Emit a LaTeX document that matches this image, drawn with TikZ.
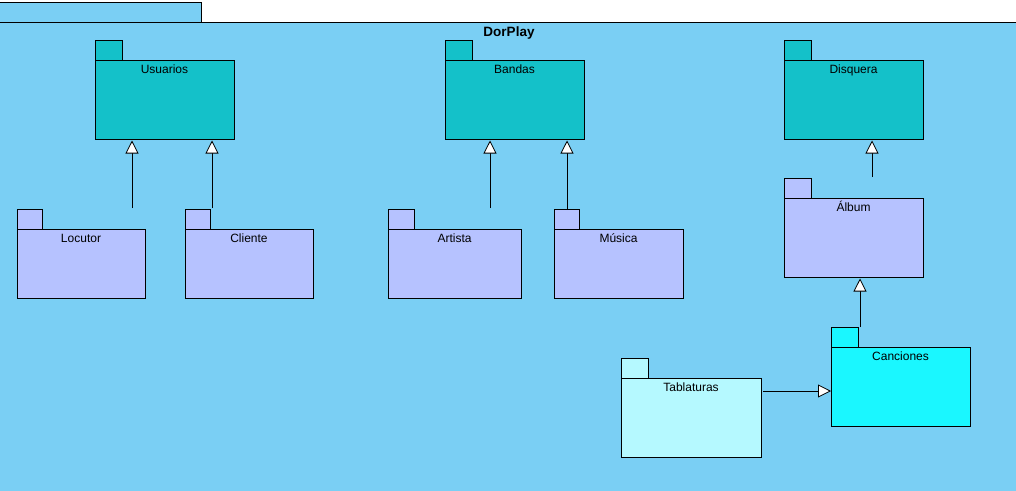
\documentclass[tikz,border=0pt]{standalone}
\usepackage{fontspec}
\setmainfont{Liberation Sans}
\usetikzlibrary{arrows.meta,positioning}
\definecolor{fondo}{RGB}{122,207,244}
\definecolor{verdeazul}{RGB}{20,193,201}
\definecolor{lavanda}{RGB}{182,194,255}
\definecolor{cian}{RGB}{26,247,255}
\definecolor{cianclaro}{RGB}{181,249,255}
\tikzset{
  pkg/.style={draw, line width=0.9pt, anchor=north west, inner sep=0pt, outer sep=0pt,
    minimum width=139pt, minimum height=79pt},
  pkgchico/.style={pkg, minimum width=128pt, minimum height=69pt},
  tabpkg/.style={draw, line width=0.9pt, anchor=south west, inner sep=0pt, outer sep=0pt,
    minimum width=27pt, minimum height=20pt},
  lbl/.style={anchor=base, yshift=-13pt, inner sep=0pt, font=\fontsize{12}{14}\selectfont},
  gen/.style={-{Triangle[fill=white,width=13pt,length=13pt]}, line width=0.8pt, shorten >=1.5pt}
}
\begin{document}
\begin{tikzpicture}[x=1pt,y=-1pt]
                \useasboundingbox (0,0) rectangle (1016,490);
                %marco
                \draw[fill=fondo, line width=0.9pt] (-3,2) rectangle (201,22);
                \draw[fill=fondo, line width=0.9pt] (-3,22) rectangle (1020,494);
                \node[font=\fontsize{13.5}{15}\selectfont\bfseries, anchor=base] (titulo) at (509,36.5) {DorPlay};
                %paquetes de arriba
                \node[pkg, fill=verdeazul, label={[lbl]north:Usuarios}] (usu) at (95,60) {};
                \node[tabpkg, fill=verdeazul] (usu-tab) at (usu.north west) {};
                \node[pkg, fill=verdeazul, label={[lbl]north:Bandas}] (ban) at (445,60) {};
                \node[tabpkg, fill=verdeazul] (ban-tab) at (ban.north west) {};
                \node[pkg, fill=verdeazul, label={[lbl]north:Disquera}] (dis) at (784,60) {};
                \node[tabpkg, fill=verdeazul] (dis-tab) at (dis.north west) {};
                %paquetes de abajo
                \node[pkgchico, fill=lavanda, label={[lbl]north:Locutor}] (loc) at (17,229) {};
                \node[tabpkg, fill=lavanda, minimum width=25pt] (loc-tab) at (loc.north west) {};
                \node[pkgchico, fill=lavanda, label={[lbl]north:Cliente}] (cli) at (185,229) {};
                \node[tabpkg, fill=lavanda, minimum width=25pt] (cli-tab) at (cli.north west) {};
                \node[pkgchico, fill=lavanda, minimum width=133pt, label={[lbl]north:Artista}] (art) at (388,229) {};
                \node[tabpkg, fill=lavanda, minimum width=26pt] (art-tab) at (art.north west) {};
                \node[pkgchico, fill=lavanda, minimum width=129pt, label={[lbl]north:Música}] (mus) at (554,229) {};
                \node[tabpkg, fill=lavanda, minimum width=25pt] (mus-tab) at (mus.north west) {};
                \node[pkg, fill=lavanda, label={[lbl]north:Álbum}] (alb) at (784,198) {};
                \node[tabpkg, fill=lavanda] (alb-tab) at (alb.north west) {};
                \node[pkg, fill=cian, label={[lbl]north:Canciones}] (can) at (831,347) {};
                \node[tabpkg, fill=cian] (can-tab) at (can.north west) {};
                \node[pkg, fill=cianclaro, minimum width=140pt, label={[lbl]north:Tablaturas}] (tab) at (621,378) {};
                \node[tabpkg, fill=cianclaro] (tab-tab) at (tab.north west) {};
                %generalizaciones
                \coordinate (lo) at (132,208);
                \coordinate (cl) at (212,208);
                \coordinate (ar) at (490,208);
                \coordinate (mu) at (567,209);
                \coordinate (al) at (872,177);
                \coordinate (ca) at (860,327);
                \coordinate (ta) at (763,391);
                \draw[gen] (lo) -- (lo |- usu.south);
                \draw[gen] (cl) -- (cl |- usu.south);
                \draw[gen] (ar) -- (ar |- ban.south);
                \draw[gen] (mu) -- (mu |- ban.south);
                \draw[gen] (al) -- (al |- dis.south);
                \draw[gen] (ca) -- (ca |- alb.south);
                \draw[gen, shorten >=0pt] (ta) -- (ta -| can.west);
            \end{tikzpicture}
\end{document}
